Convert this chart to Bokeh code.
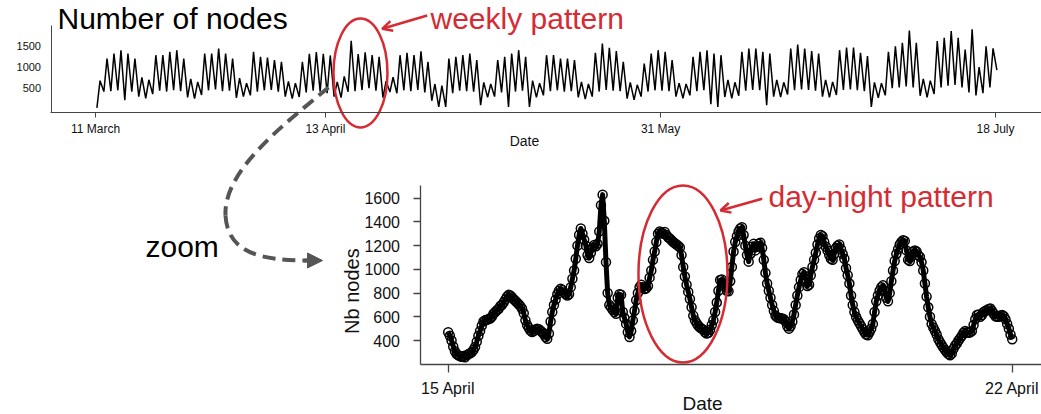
import math
import numpy as np
from bokeh.plotting import figure
from bokeh.models import Range1d, LinearAxis, FixedTicker, Label, Arrow, NormalHead, OpenHead
from bokeh.embed import file_html
from bokeh.resources import INLINE

# ---------------- data ----------------
# Overview: one night minimum and one day maximum per day, from 11 March (day 0)
top_tick_days = [0, 33, 81, 129]
top_tick_labels = ["11 March", "13 April", "31 May", "18 July"]
top_y_ticks = [500, 1000, 1500]

daily_low = [
    30, 420, 430, 450, 214, 420, 300,
    260, 360, 440, 420, 450, 430, 280,
    250, 340, 450, 470, 430, 440, 270,
    300, 330, 420, 450, 460, 420, 300,
    250, 290, 400, 440, 420, 380, 300,
    274, 414, 428, 456, 499, 442, 274,
    410, 380, 450, 430, 460, 400, 200,
    55, 55, 380, 440, 430, 420, 95,
    280, 300, 400, 55, 420, 440, 55,
    280, 330, 430, 450, 420, 430, 280,
    240, 300, 420, 460, 440, 430, 250,
    220, 300, 420, 450, 440, 430, 300,
    260, 330, 430, 450, 120, 55, 290,
    260, 320, 440, 460, 450, 95, 300,
    290, 350, 450, 470, 460, 440, 300,
    280, 340, 460, 470, 450, 430, 55,
    270, 330, 500, 520, 540, 520, 320,
    280, 360, 520, 560, 580, 520, 400,
    330, 380, 520, 930,
]
daily_high = [
    680, 1206, 1325, 1405, 1325, 1206, 760,
    700, 1286, 1286, 1365, 1405, 1206, 720,
    650, 1325, 1325, 1444, 1325, 1206, 740,
    620, 1365, 1246, 1230, 1167, 1127, 660,
    620, 1130, 1320, 1360, 1320, 1280, 650,
    780, 1630, 1315, 1355, 1290, 1245, 670,
    760, 1286, 1340, 1286, 1380, 1130, 600,
    560, 1206, 1246, 1286, 1325, 1167, 640,
    600, 1167, 1246, 1325, 1405, 1246, 680,
    620, 1286, 1286, 1206, 1206, 1167, 650,
    600, 1345, 1564, 1464, 1385, 1130, 640,
    580, 1087, 1325, 1405, 1365, 1167, 620,
    600, 1246, 1365, 1405, 1325, 1286, 700,
    640, 1365, 1444, 1444, 1365, 1325, 700,
    640, 1445, 1540, 1445, 1385, 1325, 700,
    650, 1405, 1465, 1465, 1345, 1265, 640,
    620, 1365, 1500, 1580, 1870, 1580, 720,
    680, 1620, 1700, 1860, 1700, 1420, 1900,
    1000, 1500, 1450,
]

# Zoom: 15 April -> 22 April, one value every 30 minutes
zoom_tick_days = [0, 7]
zoom_tick_labels = ["15 April", "22 April"]
zoom_y_ticks = [400, 600, 800, 1000, 1200, 1400, 1600]
zoom_values = [
    # 15 April
    470, 440, 400, 350, 310, 285, 275, 268, 262, 270, 258, 275, 285, 292, 300, 320,
    345, 390, 440, 480, 525, 560, 570, 575, 580, 585, 600, 625, 640, 655, 665, 690,
    700, 720, 745, 770, 785, 780, 765, 748, 735, 720, 705, 690, 668, 630, 570, 530,
    # 16 April
    505, 485, 472, 480, 492, 500, 495, 482, 470, 452, 430, 415, 460, 560, 640, 700,
    745, 790, 820, 836, 825, 805, 790, 780, 790, 850, 920, 990, 1090, 1200, 1290, 1345,
    1300, 1250, 1200, 1120, 1095, 1140, 1185, 1205, 1195, 1215, 1320, 1540, 1630, 1410, 1060, 800,
    # 17 April
    700, 680, 660, 640, 625, 760, 790, 785, 640, 590, 540, 470, 430, 480, 570, 650,
    740, 800, 850, 870, 850, 835, 840, 860, 930, 990, 1080, 1150, 1230, 1300, 1320, 1310,
    1300, 1315, 1290, 1270, 1260, 1245, 1230, 1220, 1210, 1200, 1185, 1120, 1020, 940, 870, 810,
    # 18 April
    750, 680, 610, 570, 545, 525, 510, 500, 490, 470, 458, 465, 490, 530, 570, 640,
    720, 820, 910, 915, 880, 850, 820, 815, 900, 1020, 1150, 1230, 1280, 1320, 1345, 1355,
    1290, 1200, 1120, 1065, 1130, 1190, 1215, 1160, 1190, 1215, 1225, 1180, 1080, 970, 880, 820,
    # 19 April
    760, 700, 650, 610, 595, 590, 588, 585, 580, 560, 520, 500, 520, 560, 620, 700,
    780, 850, 910, 960, 975, 920, 860, 870, 950, 1020, 1080, 1140, 1210, 1260, 1290, 1280,
    1230, 1190, 1160, 1120, 1090, 1080, 1130, 1180, 1200, 1210, 1170, 1130, 1090, 1010, 950, 880,
    # 20 April
    780, 700, 640, 600, 570, 545, 520, 495, 470, 450, 445, 470, 500, 540, 640, 730,
    780, 820, 850, 865, 820, 760, 730, 800, 900, 990, 1070, 1130, 1170, 1210, 1230, 1245,
    1240, 1160, 1080, 1070, 1110, 1150, 1160, 1150, 1120, 1105, 1060, 990, 880, 770, 680, 600,
    # 21 April (+ 22 April 00:00)
    540, 510, 480, 450, 410, 385, 362, 340, 320, 300, 285, 275, 290, 330, 358, 375,
    400, 420, 440, 465, 480, 470, 465, 470, 480, 530, 580, 615, 620, 600, 615, 640,
    650, 655, 665, 670, 650, 625, 605, 600, 600, 610, 615, 605, 580, 540, 500, 450,
    410,
]

# ---------------- series assembly ----------------
top_t, top_v = [], []
for d, lo in enumerate(daily_low):
    top_t.append(d + 0.2)
    top_v.append(lo)
    if d < len(daily_high):
        top_t.append(d + 0.65)
        top_v.append(daily_high[d])
zoom_t = np.arange(len(zoom_values)) / 48.0

# ---------------- canvas ----------------
W, H = 1041, 414
RED = "#d52b32"
GREY = "#555555"
AXC = "#444444"
FONT = "Liberation Sans"

p = figure(width=W, height=H, x_range=Range1d(0, W), y_range=Range1d(H, 0),
           x_axis_type=None, y_axis_type=None, toolbar_location=None,
           output_backend="svg", min_border=0, outline_line_color=None, title=None)
p.background_fill_color = "white"
p.border_fill_color = "white"


def frame_range(pa, va, pb, vb, p_start, p_end):
    s = (vb - va) / (pb - pa)
    return Range1d(start=va + (p_start - pa) * s, end=va + (p_end - pa) * s)


p.extra_x_ranges = {
    "tx": frame_range(95, 0, 995, 129, 0, W),
    "bx": frame_range(447.7, 0, 1011.7, 7, 0, W),
}
p.extra_y_ranges = {
    "ty": frame_range(87.7, 500, 45.7, 1500, H, 0),
    "by": frame_range(340, 400, 197.7, 1600, H, 0),
}


def style_axis(ax, size, tick_out, standoff, lw):
    ax.axis_line_color = AXC
    ax.axis_line_width = lw
    ax.major_tick_line_color = AXC
    ax.major_tick_line_width = lw
    ax.major_tick_in = 0
    ax.major_tick_out = tick_out
    ax.minor_tick_line_color = None
    ax.major_label_text_font = FONT
    ax.major_label_text_font_size = size
    ax.major_label_text_color = "#111111"
    ax.major_label_standoff = standoff


# overview axes
ax_tx = LinearAxis(x_range_name="tx", fixed_location=111.5, bounds=(-6.45, 140),
                   ticker=FixedTicker(ticks=top_tick_days, minor_ticks=[]),
                   major_label_overrides=dict(zip(top_tick_days, top_tick_labels)))
style_axis(ax_tx, "12px", 5, 5, 1)
p.add_layout(ax_tx, "below")

ax_ty = LinearAxis(y_range_name="ty", fixed_location=50.5, bounds=(-66.7, 1993),
                   ticker=FixedTicker(ticks=top_y_ticks, minor_ticks=[]))
style_axis(ax_ty, "11px", 0, 10, 1)
p.add_layout(ax_ty, "left")

# zoom axes
ax_bx = LinearAxis(x_range_name="bx", fixed_location=364, bounds=(-0.344, 8),
                   ticker=FixedTicker(ticks=zoom_tick_days, minor_ticks=[]),
                   major_label_overrides=dict(zip(zoom_tick_days, zoom_tick_labels)))
style_axis(ax_bx, "16px", 8, 7, 1.3)
p.add_layout(ax_bx, "below")

ax_by = LinearAxis(y_range_name="by", fixed_location=419.5, bounds=(197.6, 1707),
                   ticker=FixedTicker(ticks=zoom_y_ticks, minor_ticks=[]))
style_axis(ax_by, "16px", 7, 13, 1.3)
p.add_layout(ax_by, "left")

# data
p.line(top_t, top_v, x_range_name="tx", y_range_name="ty", line_color="black", line_width=1.5)
p.line(zoom_t, zoom_values, x_range_name="bx", y_range_name="by", line_color="black",
       line_width=5, line_join="round")
p.scatter(zoom_t, zoom_values, x_range_name="bx", y_range_name="by", marker="circle",
          size=9, fill_color=None, line_color="black", line_width=1.5)

# highlights
p.ellipse(x=[37.98], y=[862], width=[7.74], height=[2595], x_range_name="tx", y_range_name="ty",
          fill_color=None, line_color=RED, line_width=2.5)
p.ellipse(x=[2.914], y=[961], width=[1.105], height=[1493], x_range_name="bx", y_range_name="by",
          fill_color=None, line_color=RED, line_width=2.5)

# dashed zoom connector
p.bezier(x0=[328, 225], y0=[87, 215], x1=[225, 306], y1=[215, 260],
         cx0=[282, 227], cy0=[125, 252], cx1=[223, 260], cy1=[170, 260],
         line_color=GREY, line_width=4, line_dash="13 7")
p.add_layout(Arrow(end=NormalHead(size=15, fill_color=GREY, line_color=GREY, line_width=1),
                   x_start=304, y_start=260, x_end=322, y_end=260,
                   line_color=GREY, line_width=4))


# texts (y given as the text baseline; Bokeh's alphabetic anchor sits ~0.37em higher)
def lab(x, baseline, text, size, color="black", **kw):
    p.add_layout(Label(x=x, y=baseline - 0.37 * size, text=text, text_font=FONT,
                       text_font_size=f"{size}px", text_color=color,
                       text_baseline="alphabetic", **kw))


lab(57, 29.5, "Number of nodes", 30)
lab(430, 29.3, "weekly pattern", 30, RED)
p.add_layout(Arrow(end=OpenHead(size=10, line_color=RED, line_width=2.5),
                   x_start=426.7, y_start=15, x_end=381.7, y_end=28.3,
                   line_color=RED, line_width=2.5))
lab(524, 146, "Date", 14, "#111111", text_align="center")
lab(145, 256.7, "zoom", 30)
lab(768, 206.7, "day-night pattern", 30, RED)
p.add_layout(Arrow(end=OpenHead(size=10, line_color=RED, line_width=2.5),
                   x_start=761.7, y_start=198.3, x_end=720, y_end=210,
                   line_color=RED, line_width=2.5))
p.add_layout(Label(x=351.6, y=290.6, text="Nb nodes", text_font=FONT, text_font_size="20px",
                   text_color="#111111", angle=math.pi / 2,
                   text_align="center", text_baseline="middle"))
lab(702, 410, "Date", 19, "#111111", text_align="center")

open("out.html", "w").write(file_html(p, INLINE))
